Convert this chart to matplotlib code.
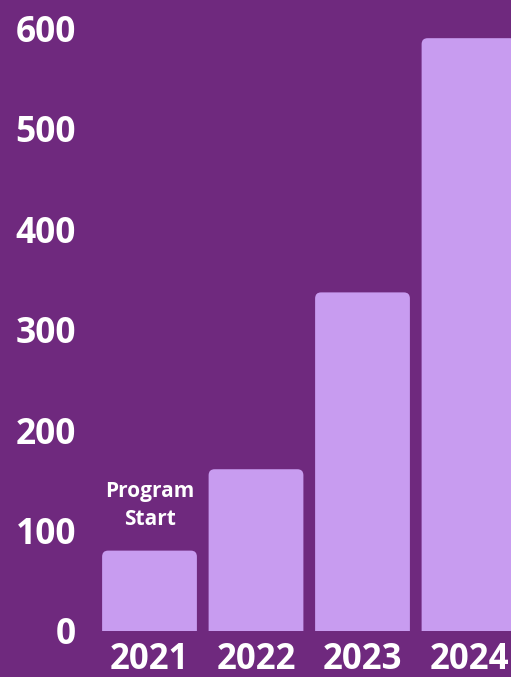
import matplotlib.pyplot as plt
from matplotlib.patches import FancyBboxPatch

years = ["2021", "2022", "2023", "2024"]
values = [80, 161, 337, 590]
yticks = [0, 100, 200, 300, 400, 500, 600]

bg = "#6f297e"
bar_color = "#c89cf0"

fig = plt.figure(figsize=(5.11, 6.77), dpi=100, facecolor=bg)
ax = fig.add_axes([97 / 511, 46 / 677, 414 / 511, 631 / 677], facecolor=bg)

x = list(range(len(years)))
width = 0.89
bars = ax.bar(x, values, width=width, color="none")

# rounded bars
rx = 6 / 106.5
for b in bars:
    p = FancyBboxPatch((b.get_x(), -10), b.get_width(), b.get_height() + 10,
                       boxstyle=f"round,pad=0,rounding_size={rx}",
                       mutation_aspect=6 / rx,
                       facecolor=bar_color, edgecolor="none", clip_on=True)
    ax.add_patch(p)

ax.set_xlim(-0.493, -0.493 + 414 / 106.5)
ax.set_ylim(0, 628)

ax.set_xticks(x)
ax.set_xticklabels(years)
ax.set_yticks(yticks)
ax.set_yticklabels([str(t) for t in yticks])
ax.tick_params(axis="x", length=0, pad=8, colors="white", labelsize=25)
ax.tick_params(axis="y", length=0, pad=15, colors="white", labelsize=25.5)
for lab in ax.get_xticklabels() + ax.get_yticklabels():
    lab.set_fontfamily("Open Sans")
    lab.set_fontweight("bold")
for lab in ax.get_yticklabels():
    lab.set_va("center_baseline")

for s in ax.spines.values():
    s.set_visible(False)

ax.text(0, 125, "Program\nStart", ha="center", va="center", color="white",
        fontsize=15, fontweight="bold", family="Open Sans", linespacing=1.4)

fig.savefig("out.png", dpi=100, facecolor=bg)
